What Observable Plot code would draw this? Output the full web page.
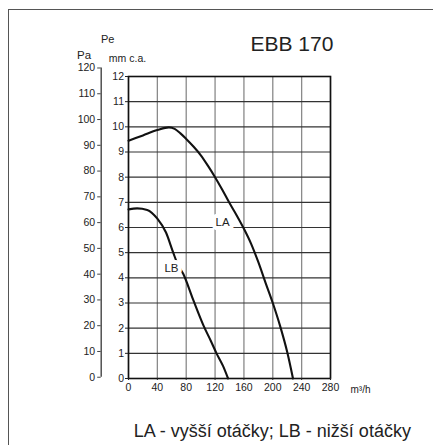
<!DOCTYPE html>
<html>
<head>
<meta charset="utf-8">
<script src="https://cdn.jsdelivr.net/npm/d3@7"></script>
<script src="https://cdn.jsdelivr.net/npm/@observablehq/plot@0.6"></script>
<style>
  html, body { margin: 0; padding: 0; background: #fff; }
  #wrap { position: relative; width: 433px; height: 445px; overflow: hidden; }
  #border { position: absolute; left: 8px; top: 9px; width: 600px; height: 600px;
            border-left: 1.5px solid #555; border-top: 1.5px solid #555; }
  #chart { position: absolute; left: 0; top: 0; }
</style>
</head>
<body>
<div id="wrap"><div id="border"></div><div id="chart"></div></div>
<script>
// Flow (m³/h) and static pressure (mm c.a.)
const laFlow = [0, 20, 40, 56, 64, 72, 80, 90, 100, 110, 120, 130, 140, 150, 160, 170, 180, 190, 200, 210, 220, 228];
const laPres = [9.45, 9.66, 9.87, 9.98, 9.92, 9.74, 9.52, 9.22, 8.88, 8.46, 8.0, 7.5, 6.97, 6.48, 5.95, 5.35, 4.62, 3.8, 3.0, 2.1, 1.05, 0];
const lbFlow = [0, 12, 26, 40, 52, 62, 68, 76, 90, 104, 114, 122, 131, 138];
const lbPres = [6.72, 6.76, 6.7, 6.35, 5.8, 5.0, 4.55, 4.15, 3.1, 2.1, 1.5, 1.0, 0.5, 0];

const xTicks = [0, 40, 80, 120, 160, 200, 240, 280];
const mmTicks = [0, 1, 2, 3, 4, 5, 6, 7, 8, 9, 10, 11, 12];
const paTicks = [0, 10, 20, 30, 40, 50, 60, 70, 80, 90, 100, 110, 120];

const curveLabels = ["LA", "LB"];
const labelFlow = [130.5, 59.5];
const labelPres = [6.19, 4.36];

const title = "EBB 170";
const caption = "LA - vyšší otáčky; LB - nižší otáčky";

// Pa secondary axis expressed in mm c.a. positions (as drawn in the reference)
const PA_SCALE = 0.1024, PA_OFFSET = 0.05;
const paToMm = p => PA_OFFSET + PA_SCALE * p;

const la = laFlow.map((x, i) => ({x, y: laPres[i]}));
const lb = lbFlow.map((x, i) => ({x, y: lbPres[i]}));
const labels = curveLabels.map((t, i) => ({t, x: labelFlow[i], y: labelPres[i]}));

const font = "Liberation Sans, Arial, Helvetica, sans-serif";

const chart = Plot.plot({
  width: 433,
  height: 445,
  marginLeft: 128,
  marginRight: 103,
  marginTop: 76,
  marginBottom: 67,
  style: {fontFamily: font, fontSize: "10px", color: "#222", background: "transparent", overflow: "visible"},
  x: {domain: [0, 280]},
  y: {domain: [0, 12]},
  marks: [
    Plot.gridX(xTicks, {stroke: "#8a8a8a", strokeOpacity: 1, strokeWidth: 1.3}),
    Plot.gridY(mmTicks, {stroke: "#333", strokeOpacity: 1, strokeWidth: 1.1}),
    Plot.frame({stroke: "#111", strokeWidth: 1.6}),
    Plot.line(la, {x: "x", y: "y", curve: "monotone-x", stroke: "#111", strokeWidth: 2.1}),
    Plot.line(lb, {x: "x", y: "y", curve: "monotone-x", stroke: "#111", strokeWidth: 2.1}),
    Plot.text(labels, {x: "x", y: "y", text: "t", fill: "#222", stroke: "white", strokeWidth: 8, fontSize: 11.5}),
    Plot.axisX(xTicks, {tickSize: 2, tickPadding: 3, label: null, fontSize: 10.5}),
    Plot.axisY(mmTicks, {tickSize: 3, tickPadding: 1.5, label: null, fontSize: 10.5}),
    Plot.axisY({ticks: paTicks.map(paToMm), tickFormat: v => String(Math.round((v - PA_OFFSET) / PA_SCALE)),
                tickSize: 3.5, tickPadding: 2.5, label: null, dx: -27.3, fontSize: 10.5, stroke: "#444"}),
    Plot.ruleX([xTicks[0]], {y1: paToMm(paTicks[0]), y2: paToMm(paTicks[paTicks.length - 1]), dx: -27.3, stroke: "#444", strokeWidth: 1.4}),
    Plot.text([title], {frameAnchor: "top-left", textAnchor: "start", lineAnchor: "bottom", dx: 122, dy: -25.3, fontSize: 21, fill: "#222"}),
    Plot.text(["Pe"], {frameAnchor: "top-left", textAnchor: "start", lineAnchor: "bottom", dx: -27.5, dy: -33.7, fontSize: 11, fill: "#222"}),
    Plot.text(["Pa"], {frameAnchor: "top-left", textAnchor: "start", lineAnchor: "bottom", dx: -51.5, dy: -17.5, fontSize: 11.5, fill: "#222"}),
    Plot.text(["mm c.a."], {frameAnchor: "top-left", textAnchor: "start", lineAnchor: "bottom", dx: -19.7, dy: -14.3, fontSize: 10.5, fill: "#222"}),
    Plot.text(["m³/h"], {frameAnchor: "bottom-right", textAnchor: "start", lineAnchor: "bottom", dx: 20, dy: 14, fontSize: 10, fill: "#222"}),
    Plot.text([caption], {frameAnchor: "bottom-left", textAnchor: "start", lineAnchor: "bottom", dx: 5.3, dy: 58, fontSize: 18, fill: "#222"})
  ]
});
document.getElementById("chart").appendChild(chart);
</script>
</body>
</html>
